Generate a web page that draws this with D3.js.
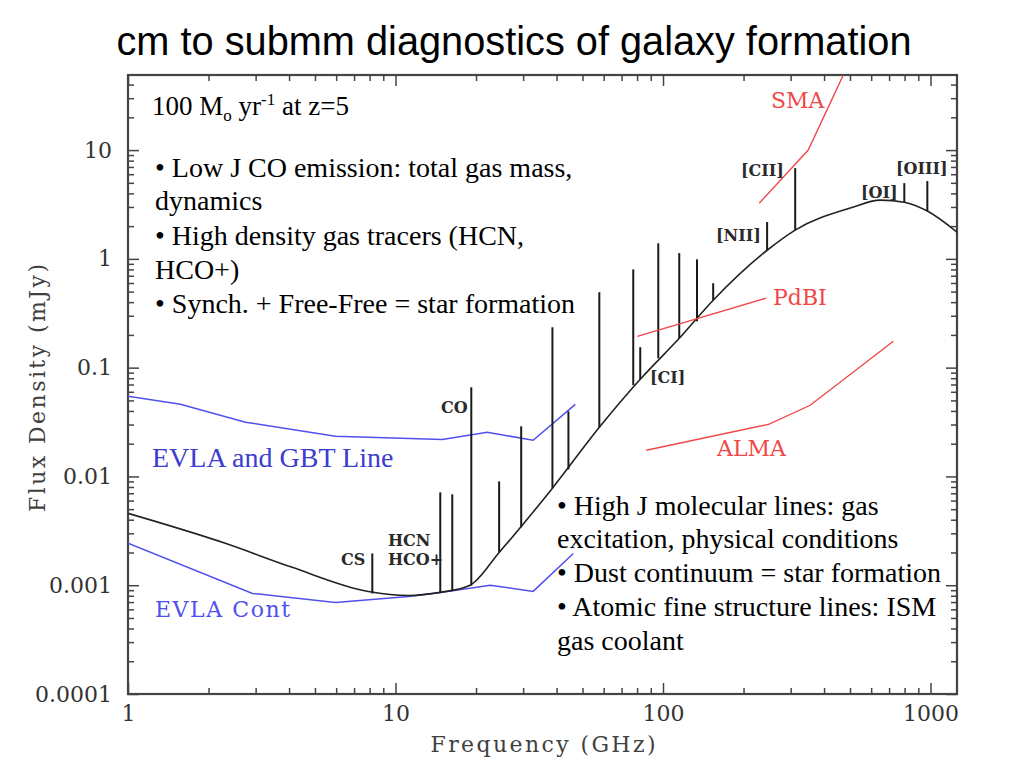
<!DOCTYPE html>
<html><head><meta charset="utf-8">
<script src="https://cdn.jsdelivr.net/npm/d3@7"></script>
<style>body{margin:0;background:#fff}</style></head><body>
<svg id="c" width="1024" height="768"></svg>
<script>
// ---- data (frequency in GHz, flux density in mJy) ----
const continuumFreq = [1.0, 2.31, 4.11, 7.91, 11.2, 14.7, 19.0, 24.4, 38.6, 57.8, 82.2, 115, 154, 245, 312, 501, 649, 798, 973, 1256];
const continuumFlux = [0.00458, 0.00243, 0.00146, 0.000877, 0.000805, 0.00086, 0.00100, 0.0020, 0.0078, 0.0283, 0.0782, 0.186, 0.417, 1.20, 1.84, 2.93, 3.47, 3.32, 2.75, 1.76];

const lineFreq = [8.19, 14.7, 16.3, 19.2, 24.4, 29.5, 38.6, 44.3, 57.8, 77.4, 82.2, 96.0, 115, 134, 154, 245, 312, 798, 973];
const lineTop  = [0.00196, 0.00714, 0.00685, 0.066, 0.0090, 0.0289, 0.235, 0.0397, 0.494, 0.80, 0.154, 1.39, 1.13, 0.99, 0.597, 2.18, 6.83, 4.97, 5.19];
const lineBase = [0.00084, 0.00086, 0.00089, 0.00099, 0.0020, 0.0034, 0.0078, 0.0116, 0.0283, 0.0689, 0.0782, 0.122, 0.186, 0.267, 0.417, 1.20, 1.84, 3.32, 2.75];

const evlaLineFreq = [1.0, 1.57, 2.75, 5.96, 14.96, 22.0, 32.7, 47.0];
const evlaLineFlux = [0.0546, 0.0460, 0.0315, 0.0234, 0.0219, 0.0255, 0.0215, 0.0460];

const evlaContFreq = [1.0, 2.92, 5.96, 11.2, 14.96, 22.6, 32.7, 46.2];
const evlaContFlux = [0.00243, 0.000841, 0.000695, 0.000789, 0.00086, 0.00100, 0.000877, 0.00196];

const smaFreq = [229, 349, 472];
const smaFlux = [3.25, 10, 49];
const pdbiFreq = [80.2, 243];
const pdbiFlux = [0.194, 0.435];
const almaFreq = [86.6, 248, 355, 726];
const almaFlux = [0.0174, 0.0301, 0.0451, 0.175];

const xTickLabels = ["1", "10", "100", "1000"];
const yTickLabels = ["0.0001", "0.001", "0.01", "0.1", "1", "10"];

// ---- layout ----
const svg = d3.select("#c");
const L = 128, R = 957, T = 75, B = 694;
const x = d3.scaleLog().domain([1, 1256]).range([L, R]);
const y = d3.scaleLog().domain([1e-4, 49]).range([B, T]);

const axisColor = "#444";
const axisFont = "'DejaVu Serif', serif";

svg.append("text").attr("x", 514).attr("y", 55).attr("text-anchor", "middle")
  .attr("font-family", "'Liberation Sans', Arial, sans-serif").attr("font-size", 40)
  .attr("textLength", 795).attr("lengthAdjust", "spacingAndGlyphs")
  .text("cm to submm diagnostics of galaxy formation");

const clip = svg.append("defs").append("clipPath").attr("id", "pc");
clip.append("rect").attr("x", L).attr("y", T).attr("width", R - L).attr("height", B - T);

// ticks
const majorX = xTickLabels.map(Number);
const minorX = [];
[1, 10, 100, 1000].forEach(d => { for (let k = 2; k <= 9; k++) if (d * k <= 1256) minorX.push(d * k); });
const majorY = yTickLabels.map(Number);
const minorY = [];
[1e-4, 1e-3, 1e-2, 0.1, 1, 10].forEach(d => { for (let k = 2; k <= 9; k++) if (d * k <= 49) minorY.push(d * k); });

function styleAxis(g) {
  g.select(".domain").remove();
  g.selectAll("line").attr("stroke", axisColor).attr("stroke-width", 1.5);
}
const gxb = svg.append("g").attr("transform", `translate(0,${B})`)
  .call(d3.axisBottom(x).tickValues(majorX).tickSize(-11).tickPadding(11).tickFormat((d, i) => xTickLabels[i]));
styleAxis(gxb);
gxb.selectAll("text").attr("font-family", axisFont).attr("font-size", 22).attr("fill", "#333");
svg.append("g").attr("transform", `translate(0,${B})`).call(d3.axisBottom(x).tickValues(minorX).tickSize(-6).tickFormat("")).call(styleAxis);
svg.append("g").attr("transform", `translate(0,${T})`).call(d3.axisTop(x).tickValues(majorX).tickSize(-11).tickFormat("")).call(styleAxis);
svg.append("g").attr("transform", `translate(0,${T})`).call(d3.axisTop(x).tickValues(minorX).tickSize(-6).tickFormat("")).call(styleAxis);

const gyl = svg.append("g").attr("transform", `translate(${L},0)`)
  .call(d3.axisLeft(y).tickValues(majorY).tickSize(-11).tickPadding(16).tickFormat((d, i) => yTickLabels[i]));
styleAxis(gyl);
gyl.selectAll("text").attr("font-family", axisFont).attr("font-size", 22).attr("fill", "#333");
svg.append("g").attr("transform", `translate(${L},0)`).call(d3.axisLeft(y).tickValues(minorY).tickSize(-6).tickFormat("")).call(styleAxis);
svg.append("g").attr("transform", `translate(${R},0)`).call(d3.axisRight(y).tickValues(majorY).tickSize(-11).tickFormat("")).call(styleAxis);
svg.append("g").attr("transform", `translate(${R},0)`).call(d3.axisRight(y).tickValues(minorY).tickSize(-6).tickFormat("")).call(styleAxis);

// frame
svg.append("rect").attr("x", L).attr("y", T).attr("width", R - L).attr("height", B - T)
  .attr("fill", "none").attr("stroke", axisColor).attr("stroke-width", 2.2);

// axis titles
svg.append("text").attr("x", 543).attr("y", 752).attr("text-anchor", "middle")
  .attr("font-family", axisFont).attr("font-size", 22).attr("fill", "#404040")
  .attr("textLength", 225).attr("lengthAdjust", "spacing").text("Frequency (GHz)");
svg.append("text").attr("transform", "translate(45,388) rotate(-90)").attr("text-anchor", "middle")
  .attr("font-family", axisFont).attr("font-size", 22).attr("fill", "#404040")
  .attr("textLength", 248).attr("lengthAdjust", "spacing").text("Flux Density (mJy)");

// series
const plot = svg.append("g").attr("clip-path", "url(#pc)");
const mk = (fs, vs) => fs.map((f, i) => [f, vs[i]]);
const lineGen = d3.line().x(d => x(d[0])).y(d => y(d[1]));
const smooth = d3.line().x(d => x(d[0])).y(d => y(d[1])).curve(d3.curveMonotoneX);

const blue = "#5050ee", red = "#f04848";
plot.append("path").datum(mk(evlaLineFreq, evlaLineFlux)).attr("d", lineGen).attr("fill", "none").attr("stroke", blue).attr("stroke-width", 1.5);
plot.append("path").datum(mk(evlaContFreq, evlaContFlux)).attr("d", lineGen).attr("fill", "none").attr("stroke", blue).attr("stroke-width", 1.5);
plot.append("path").datum(mk(continuumFreq, continuumFlux)).attr("d", smooth).attr("fill", "none").attr("stroke", "#222").attr("stroke-width", 1.6);
plot.selectAll("line.sp").data(lineFreq).join("line").attr("class", "sp")
  .attr("x1", d => x(d)).attr("x2", d => x(d))
  .attr("y1", (d, i) => y(lineBase[i])).attr("y2", (d, i) => y(lineTop[i]))
  .attr("stroke", "#1a1a1a").attr("stroke-width", 2);
[[smaFreq, smaFlux], [pdbiFreq, pdbiFlux], [almaFreq, almaFlux]].forEach(([f, v]) =>
  plot.append("path").datum(mk(f, v)).attr("d", lineGen).attr("fill", "none").attr("stroke", red).attr("stroke-width", 1.4));

// small labels
const small = [["CS", 341, 565], ["HCN", 388, 546], ["HCO+", 388, 565], ["CO", 441, 413], ["[CI]", 650, 383],
  ["[NII]", 716, 241], ["[CII]", 741, 176], ["[OI]", 861, 198], ["[OIII]", 896, 174]];
small.forEach(([t, px, py]) => svg.append("text").attr("x", px).attr("y", py)
  .attr("font-family", axisFont).attr("font-size", 16).attr("font-weight", 600).attr("fill", "#2a2a2a").text(t));

const redLab = [["SMA", 771, 108], ["PdBI", 773, 305], ["ALMA", 717, 456]];
redLab.forEach(([t, px, py]) => svg.append("text").attr("x", px).attr("y", py)
  .attr("font-family", axisFont).attr("font-size", 22).attr("fill", red).text(t));

svg.append("text").attr("x", 155).attr("y", 617).attr("font-family", axisFont).attr("font-size", 22)
  .attr("fill", blue).attr("textLength", 135).attr("lengthAdjust", "spacing").text("EVLA Cont");

const serif = "'Liberation Serif', 'Times New Roman', serif";
svg.append("text").attr("x", 152).attr("y", 467).attr("font-family", serif).attr("font-size", 28)
  .attr("fill", "#3c3cd0").text("EVLA and GBT Line");

const head = svg.append("text").attr("x", 152).attr("y", 115).attr("font-family", serif).attr("font-size", 27).attr("fill", "#000");
head.append("tspan").text("100 M");
head.append("tspan").attr("font-size", 17).attr("dy", 6).text("o");
head.append("tspan").attr("dy", -6).text(" yr");
head.append("tspan").attr("font-size", 17).attr("dy", -10).text("-1");
head.append("tspan").attr("dy", 10).text(" at z=5");

const block1 = ["• Low J CO emission: total gas mass,", "dynamics", "• High density gas tracers (HCN,", "HCO+)", "• Synch. + Free-Free = star formation"];
const b1y = [177, 210, 245, 279, 313];
block1.forEach((t, i) => svg.append("text").attr("x", 155).attr("y", b1y[i]).attr("font-family", serif).attr("font-size", 28).text(t));

const block2 = ["• High J molecular lines: gas", "excitation, physical conditions", "• Dust continuum = star formation", "• Atomic fine structure lines: ISM", "gas coolant"];
const b2y = [515, 548, 582, 616, 650];
block2.forEach((t, i) => svg.append("text").attr("x", 557).attr("y", b2y[i]).attr("font-family", serif).attr("font-size", 28).text(t));
</script>
</body></html>
